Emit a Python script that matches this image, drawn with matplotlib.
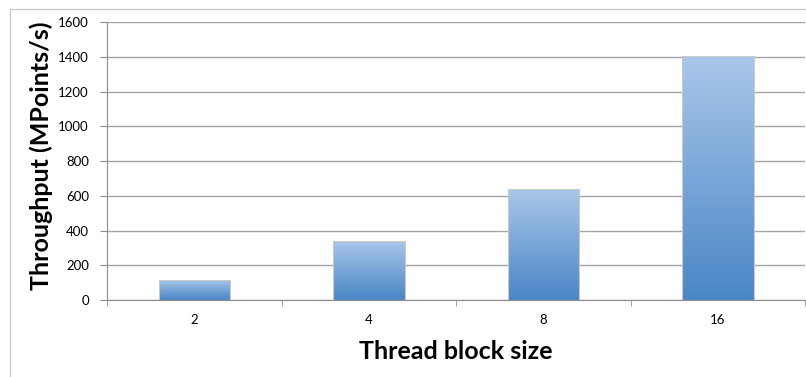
import numpy as np
import matplotlib
matplotlib.use("Agg")
import matplotlib.pyplot as plt
from matplotlib.colors import LinearSegmentedColormap
from matplotlib.lines import Line2D

block_sizes = ["2", "4", "8", "16"]
throughput = [118, 340, 637, 1402]
y_ticks = [0, 200, 400, 600, 800, 1000, 1200, 1400, 1600]

plt.rcParams['font.family'] = ['Lato', 'DejaVu Sans']

fig = plt.figure(figsize=(8.06, 3.77), dpi=100)
ax = fig.add_axes([0.1328, 0.2042, 0.866, 0.7374])

# light chart border on the left and top
W, H = 806.0, 377.0
fig.add_artist(Line2D([10 / W, 10 / W], [0, 1 - 9 / H], color="#c8c8c8", lw=0.9, transform=fig.transFigure))
fig.add_artist(Line2D([10 / W, 1], [1 - 9 / H, 1 - 9 / H], color="#c8c8c8", lw=0.9, transform=fig.transFigure))

x = np.arange(len(block_sizes))
width = 0.41
bars = ax.bar(x, throughput, width, color="none", edgecolor="#c9c9c9", linewidth=0.8, zorder=3)

# vertical blue gradient inside each bar
cmap = LinearSegmentedColormap.from_list("blues", ["#4a86c6", "#a9c7e9"])
grad = np.linspace(0, 1, 256).reshape(-1, 1)
for rect, val in zip(bars, throughput):
    x0 = rect.get_x()
    img = ax.imshow(grad, cmap=cmap, origin="lower", aspect="auto",
                    extent=[x0, x0 + width, 0, val], zorder=2)
    img.set_clip_path(rect)

ax.set_xlim(-0.5, len(block_sizes) - 0.5)
ax.set_ylim(0, 1600)
ax.set_yticks(y_ticks)
ax.set_yticklabels([str(v) for v in y_ticks], fontsize=9.5)
ax.set_xticks(x)
ax.set_xticklabels(block_sizes, fontsize=9.5)
ax.set_xticks(np.arange(len(block_sizes) + 1) - 0.5, minor=True)
ax.tick_params(axis="x", which="major", length=0, pad=10)
ax.tick_params(axis="x", which="minor", length=4, color="#8c8c8c", direction="out")
ax.tick_params(axis="y", length=5, color="#8c8c8c", pad=8)

ax.grid(axis="y", color="#a6a6a6", linewidth=1.0, zorder=0)
ax.set_axisbelow(True)
for side in ["top", "right"]:
    ax.spines[side].set_visible(False)
ax.spines["left"].set_color("#8c8c8c")
ax.spines["bottom"].set_color("#8c8c8c")

ax.set_ylabel("Throughput (MPoints/s)", fontsize=18, fontweight="bold")
ax.yaxis.set_label_coords(-0.078, 0.52)
ax.set_xlabel("Thread block size", fontsize=18, fontweight="bold", labelpad=10)
ax.set_aspect("auto")

fig.savefig("out.png", dpi=100)
